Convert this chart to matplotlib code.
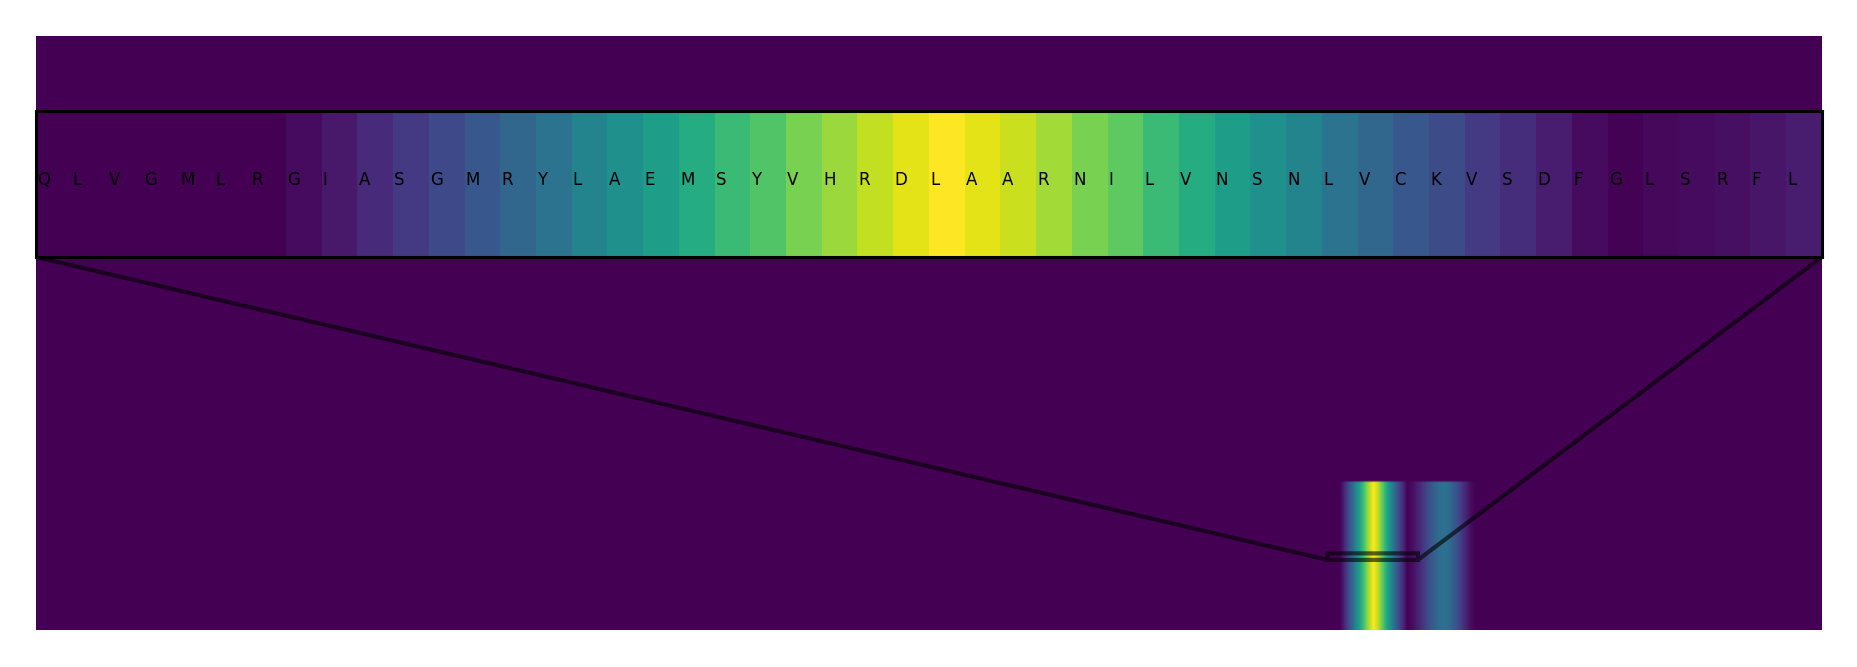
import numpy as np
import matplotlib
matplotlib.use('Agg')
import matplotlib.pyplot as plt
import matplotlib.transforms as mtransforms

# Sequence / attention data
seq_len = 990
n_rows = 200
n_score_rows = 50
window_start = 716

residues = list("QLVGMLRGIASGMRYLAEMSYVHRDLAARNILVNSNLVCKVSDFGLSRFL")

# scores of the 50 residues shown in the zoomed window
window_scores = [0.0, 0.0, 0.0, 0.0, 0.0, 0.0, 0.0,
                 0.03, 0.07, 0.12, 0.17, 0.22, 0.27, 0.33, 0.38, 0.45, 0.50,
                 0.56, 0.62, 0.68, 0.73, 0.80, 0.85, 0.91, 0.96,
                 1.00, 0.96, 0.92, 0.86, 0.80, 0.75, 0.68, 0.62, 0.56, 0.50,
                 0.45, 0.38, 0.33, 0.27, 0.23, 0.17, 0.13, 0.08, 0.03, 0.005,
                 0.02, 0.03, 0.04, 0.06, 0.08]

# second (weaker) peak right after the window
tail_scores = [0.10, 0.12, 0.15, 0.17, 0.20, 0.22, 0.25, 0.27, 0.29, 0.31,
               0.33, 0.35, 0.36, 0.37, 0.38, 0.37, 0.36, 0.34, 0.32, 0.30,
               0.27, 0.25, 0.22, 0.19, 0.16, 0.13, 0.10, 0.08, 0.05, 0.03,
               0.02, 0.01]

scores = np.zeros(seq_len)
scores[window_start:window_start + len(window_scores)] = window_scores
tail_start = window_start + len(window_scores)
scores[tail_start:tail_start + len(tail_scores)] = tail_scores

attention = np.zeros((n_rows, seq_len))
attention[:n_score_rows] = scores

fig = plt.figure(figsize=(18.57, 6.67), dpi=100)
ax = fig.add_axes([36 / 1857, 37 / 667, 1786 / 1857, 594 / 667])
ax.imshow(attention, aspect='auto', cmap='viridis', origin='lower')
ax.axis('off')

# zoomed inset
axins = ax.inset_axes([0, 0.628, 1, 0.246])
axins.imshow(attention, aspect='auto', cmap='viridis', origin='lower',
             interpolation='nearest')
axins.set_xlim(window_start - 0.5, window_start + len(residues) - 0.5)
axins.set_ylim(23.1, 25.3)
axins.set_xticks([])
axins.set_yticks([])
for s in axins.spines.values():
    s.set_linewidth(2.2)
    s.set_color('black')

trans = mtransforms.blended_transform_factory(axins.transData, axins.transAxes)
for i, aa in enumerate(residues):
    axins.text(window_start + i - 0.47, 0.493, aa, transform=trans,
               ha='left', va='baseline', fontsize=12, color='black')

ind = ax.indicate_inset_zoom(axins, edgecolor='black', alpha=0.6, linewidth=3)
# keep the two lines from the lower corners of the inset
for con, vis in zip(ind.connectors, [True, False, True, False]):
    con.set_visible(vis)

fig.savefig('out.png', dpi=100)
